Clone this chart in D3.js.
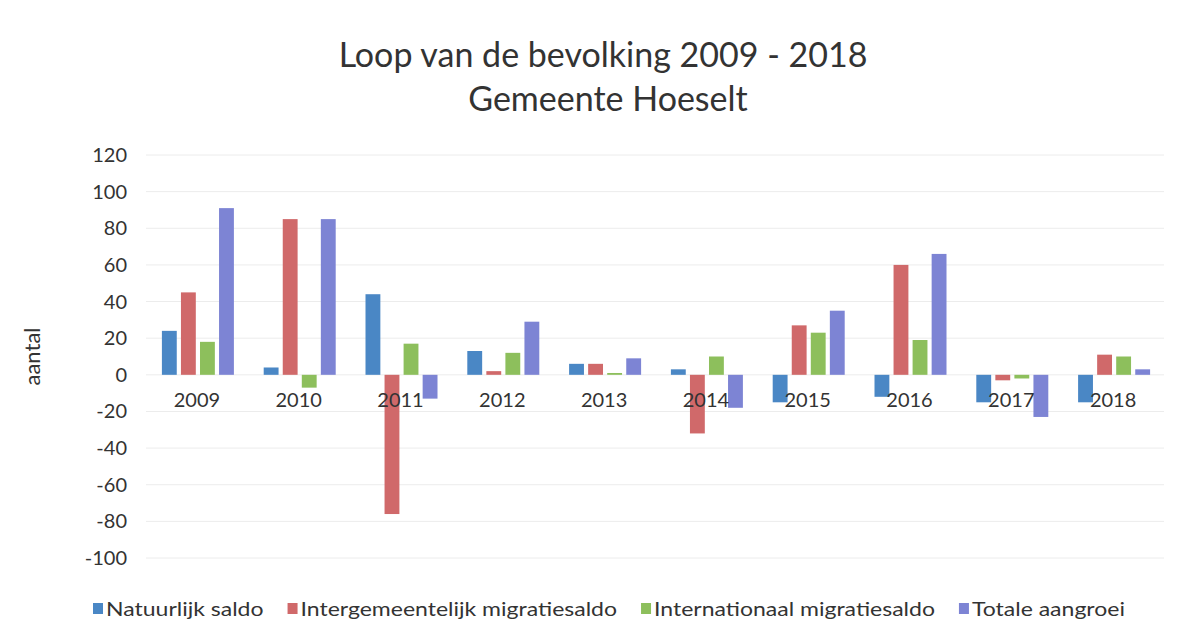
<!DOCTYPE html>
<html lang="nl">
<head>
<meta charset="UTF-8">
<title>Loop van de bevolking</title>
<script src="https://d3js.org/d3.v7.min.js"></script>
<style>
    body { margin: 0; background: #fff; }
    svg text { font-family: Lato, "Open Sans", sans-serif; fill: #333; }
    .grid line { stroke: #ececec; stroke-width: 1px; }
</style>
</head>
<body>
<svg id="chart" width="1189" height="638"></svg>
<script>
    // data
    const years = ["2009", "2010", "2011", "2012", "2013", "2014", "2015", "2016", "2017", "2018"];
    const seriesNames = ["Natuurlijk saldo", "Intergemeentelijk migratiesaldo", "Internationaal migratiesaldo", "Totale aangroei"];
    const natuurlijk = [24, 4, 44, 13, 6, 3, -15, -12, -15, -15];
    const intergemeentelijk = [45, 85, -76, 2, 6, -32, 27, 60, -3, 11];
    const internationaal = [18, -7, 17, 12, 1, 10, 23, 19, -2, 10];
    const totaal = [91, 85, -13, 29, 9, -18, 35, 66, -23, 3];
    const yTicks = [120, 100, 80, 60, 40, 20, 0, -20, -40, -60, -80, -100];
    const colors = ["#4a87c5", "#d0696a", "#8dbf5c", "#7d84d4"];

    const series = [natuurlijk, intergemeentelijk, internationaal, totaal];

    let svg = d3.select("#chart");
    let plotLeft = 146, plotRight = 1164, plotTop = 155, plotBottom = 558;

    let x = d3.scaleBand().domain(years).range([plotLeft, plotRight]);
    let x1 = d3.scaleBand().domain(d3.range(4)).range([0, 72]).paddingInner(0.22);
    let y = d3.scaleLinear().domain([-100, 120]).range([plotBottom, plotTop]);

    // gridlines
    svg.append("g").attr("class", "grid")
        .selectAll("line").data(yTicks).enter().append("line")
        .attr("x1", plotLeft).attr("x2", plotRight)
        .attr("y1", d => y(d)).attr("y2", d => y(d));

    // y tick labels
    svg.append("g").selectAll("text").data(yTicks).enter().append("text")
        .attr("x", 127).attr("y", d => y(d))
        .attr("dy", "0.35em").attr("text-anchor", "end")
        .style("font-size", "20px")
        .text(d => d);

    // bars
    let groups = svg.append("g").selectAll("g").data(years).enter().append("g")
        .attr("transform", d => "translate(" + (x(d) + (x.bandwidth() - 72) / 2 + 1) + ",0)");
    groups.selectAll("rect")
        .data((d, i) => series.map((s, k) => ({k: k, v: s[i]})))
        .enter().append("rect")
        .attr("x", d => x1(d.k))
        .attr("width", x1.bandwidth())
        .attr("y", d => y(Math.max(0, d.v)))
        .attr("height", d => Math.abs(y(d.v) - y(0)))
        .attr("fill", d => colors[d.k]);

    // category labels just below the zero line
    svg.append("g").selectAll("text").data(years).enter().append("text")
        .attr("x", d => x(d) + x.bandwidth() / 2)
        .attr("y", y(0) + 32)
        .attr("text-anchor", "middle")
        .style("font-size", "20px")
        .text(d => d);

    // title
    svg.append("text").attr("x", 603).attr("y", 67).attr("text-anchor", "middle")
        .style("font-size", "34px").text("Loop van de bevolking 2009 - 2018");
    svg.append("text").attr("x", 608).attr("y", 111).attr("text-anchor", "middle")
        .style("font-size", "34px").text("Gemeente Hoeselt");

    // y axis title
    svg.append("text").attr("transform", "translate(40," + y(10) + ") rotate(-90)")
        .attr("text-anchor", "middle").style("font-size", "22px").text("aantal");

    // legend (text is a little stretched sideways in the original)
    let legend = svg.append("g");
    let lx = 93;
    seriesNames.forEach(function (name, k) {
        legend.append("rect").attr("x", lx).attr("y", 603).attr("width", 10).attr("height", 11)
            .attr("fill", colors[k]);
        let t = legend.append("text").attr("x", lx + 13).attr("y", 616)
            .style("font-size", "20px").text(name);
        let w = t.node().getComputedTextLength() * 1.15;
        t.attr("textLength", w).attr("lengthAdjust", "spacingAndGlyphs");
        lx += 13 + w + 24;
    });
</script>
</body>
</html>
